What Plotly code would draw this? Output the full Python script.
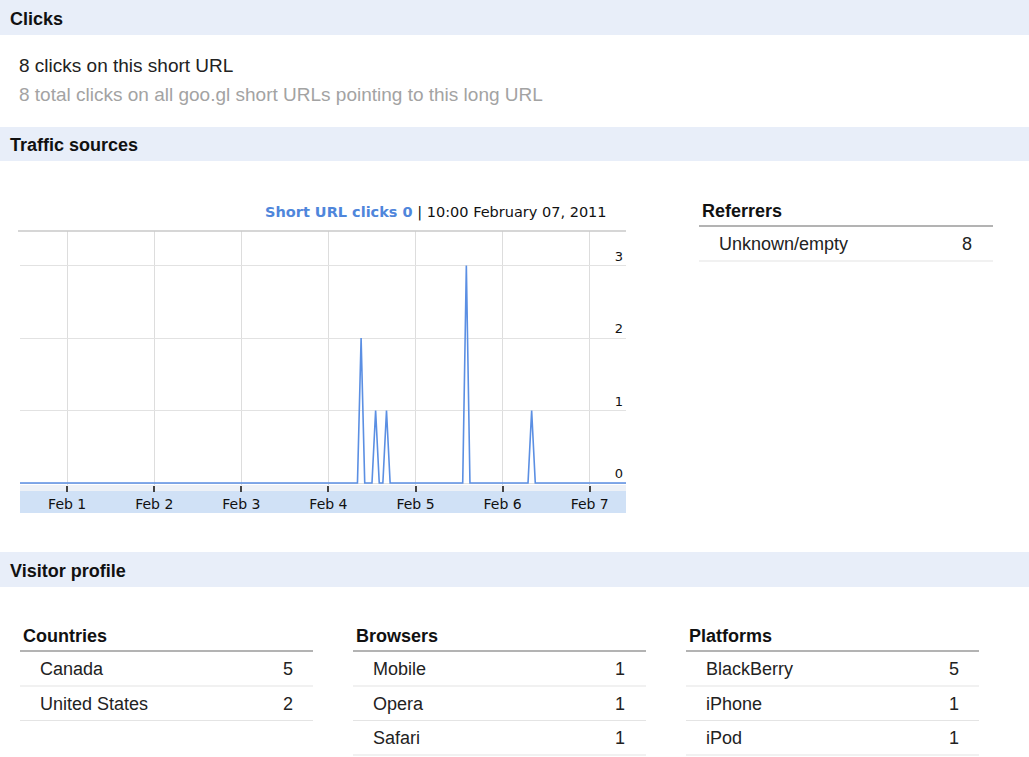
import pandas as pd
import plotly.graph_objects as go

W, H = 1029, 757

# ---------------- data ----------------
hour_start = "2011-01-31 11:00"
hour_end = "2011-02-07 10:00"
spike_times = ["2011-02-04 09:00", "2011-02-04 13:00", "2011-02-04 16:00",
               "2011-02-05 14:00", "2011-02-06 08:00"]
spike_clicks = [2, 1, 1, 3, 1]

y_ticks = [0, 1, 2, 3]

total_clicks_short = 8
total_clicks_long = 8

referrers = ["Unknown/empty"]
referrer_clicks = [8]

countries = ["Canada", "United States"]
country_clicks = [5, 2]

browsers = ["Mobile", "Opera", "Safari"]
browser_clicks = [1, 1, 1]

platforms = ["BlackBerry", "iPhone", "iPod"]
platform_clicks = [5, 1, 1]

# hourly series (zero except at the spikes)
hours = pd.date_range(hour_start, hour_end, freq="h")
spike_map = {pd.Timestamp(t): v for t, v in zip(spike_times, spike_clicks)}
clicks = [spike_map.get(h, 0) for h in hours]

# ---------------- helpers ----------------
def X(px):
    return px / W

def Y(py):
    return 1 - py / H

SANS = "Liberation Sans, Arial, sans-serif"
VERD = "DejaVu Sans, Verdana, sans-serif"
HEADER_BG = "#e8eef9"
LINE_BLUE = "#5b8fe3"
TITLE_BLUE = "#4f86db"
PAD = 2  # annotation text padding compensation

fig = go.Figure()
fig.add_trace(go.Scatter(
    x=hours, y=clicks, mode="lines",
    line=dict(color=LINE_BLUE, width=1.6),
    hoverinfo="x+y", showlegend=False,
))

# plot geometry (pixels)
PL, PR, PT, PB = 20, 626, 231, 485
Y0 = 483          # pixel position of value 0
UNIT = 72.5       # pixels per click
y_lo = -(PB - Y0) / UNIT
y_hi = (PB - PT) / UNIT + y_lo

shapes = []
annotations = []

# section header bands
for (top, bot, label) in [(0, 35, "Clicks"), (127, 161, "Traffic sources"), (552, 587, "Visitor profile")]:
    shapes.append(dict(type="rect", xref="paper", yref="paper", x0=0, x1=1, y0=Y(bot), y1=Y(top),
                       fillcolor=HEADER_BG, line=dict(width=0), layer="below"))
    annotations.append(dict(x=X(10 - PAD), y=Y((top + bot) / 2 + 1), xref="paper", yref="paper",
                            text="<b>%s</b>" % label, showarrow=False, xanchor="left", yanchor="middle",
                            font=dict(family=SANS, size=18, color="#111")))

# click summary
annotations.append(dict(x=X(19 - PAD), y=Y(65), xref="paper", yref="paper",
                        text="%d clicks on this short URL" % total_clicks_short, showarrow=False,
                        xanchor="left", yanchor="middle", font=dict(family=SANS, size=19, color="#222")))
annotations.append(dict(x=X(19 - PAD), y=Y(94), xref="paper", yref="paper",
                        text="%d total clicks on all goo.gl short URLs pointing to this long URL" % total_clicks_long,
                        showarrow=False, xanchor="left", yanchor="middle",
                        font=dict(family=SANS, size=19, color="#a3a3a3")))

# chart title
annotations.append(dict(x=X(609), y=Y(213), xref="paper", yref="paper",
                        text="<b><span style='color:%s'>Short URL clicks 0</span></b> | 10:00 February 07, 2011" % TITLE_BLUE,
                        showarrow=False, xanchor="right", yanchor="middle",
                        font=dict(family=VERD, size=14.5, color="#111")))

# chart top border
shapes.append(dict(type="line", xref="paper", yref="paper", x0=X(18), x1=X(PR), y0=Y(PT), y1=Y(PT),
                   line=dict(color="#c8c8c8", width=1.5)))
# x-axis band
shapes.append(dict(type="rect", xref="paper", yref="paper", x0=X(PL), x1=X(PR), y0=Y(513), y1=Y(PB),
                   fillcolor="#edf1f7", line=dict(width=0), layer="below"))
shapes.append(dict(type="rect", xref="paper", yref="paper", x0=X(PL), x1=X(PR), y0=Y(513), y1=Y(491),
                   fillcolor="#d0e1f6", line=dict(width=0), layer="below"))

# tables
def table(title, names, values, x_left, x_right, y_head, val_right):
    annotations.append(dict(x=X(x_left + 3 - PAD), y=Y(y_head), xref="paper", yref="paper",
                            text="<b>%s</b>" % title, showarrow=False, xanchor="left", yanchor="middle",
                            font=dict(family=SANS, size=18, color="#111")))
    hl = y_head + 15
    shapes.append(dict(type="line", xref="paper", yref="paper", x0=X(x_left), x1=X(x_right),
                       y0=Y(hl), y1=Y(hl), line=dict(color="#9a9a9a", width=1.5)))
    for i, (n, v) in enumerate(zip(names, values)):
        ry = hl + 18 + i * 34.5
        annotations.append(dict(x=X(x_left + 20 - PAD), y=Y(ry), xref="paper", yref="paper", text=n,
                                showarrow=False, xanchor="left", yanchor="middle",
                                font=dict(family=SANS, size=18, color="#222")))
        annotations.append(dict(x=X(val_right), y=Y(ry), xref="paper", yref="paper", text=str(v),
                                showarrow=False, xanchor="right", yanchor="middle",
                                font=dict(family=SANS, size=18, color="#222")))
        sl = ry + 17
        shapes.append(dict(type="line", xref="paper", yref="paper", x0=X(x_left), x1=X(x_right),
                           y0=Y(sl), y1=Y(sl), line=dict(color="#e4e4e4", width=1.2)))

table("Referrers", referrers, referrer_clicks, 699, 993, 211, 974)
table("Countries", countries, country_clicks, 20, 313, 636, 295)
table("Browsers", browsers, browser_clicks, 353, 646, 636, 627)
table("Platforms", platforms, platform_clicks, 686, 979, 636, 961)

fig.update_layout(
    width=W, height=H,
    margin=dict(l=0, r=0, t=0, b=0),
    paper_bgcolor="white", plot_bgcolor="white",
    showlegend=False,
    shapes=shapes, annotations=annotations,
    xaxis=dict(
        domain=[X(PL), X(PR)], type="date",
        range=[hours[0], hours[-1]],
        tick0="2011-02-01", dtick=86400000, tickformat="%b %-d",
        ticks="outside", ticklen=6, tickwidth=1.5, tickcolor="#444",
        showgrid=True, gridcolor="#dddddd", gridwidth=1,
        zeroline=False, showline=False, fixedrange=True,
        tickfont=dict(family=VERD, size=14, color="#111"),
    ),
    yaxis=dict(
        domain=[Y(PB), Y(PT)], range=[y_lo, y_hi],
        side="right", ticklabelposition="inside top",
        tickvals=y_ticks, ticks="",
        showgrid=True, gridcolor="#e2e2e2", gridwidth=1,
        zeroline=False, showline=False, fixedrange=True,
        tickfont=dict(family=VERD, size=13, color="#111"),
    ),
)

fig.write_html("out.html", config={"displayModeBar": False},
               post_script="document.body.style.margin='0';document.body.style.overflow='hidden';")
